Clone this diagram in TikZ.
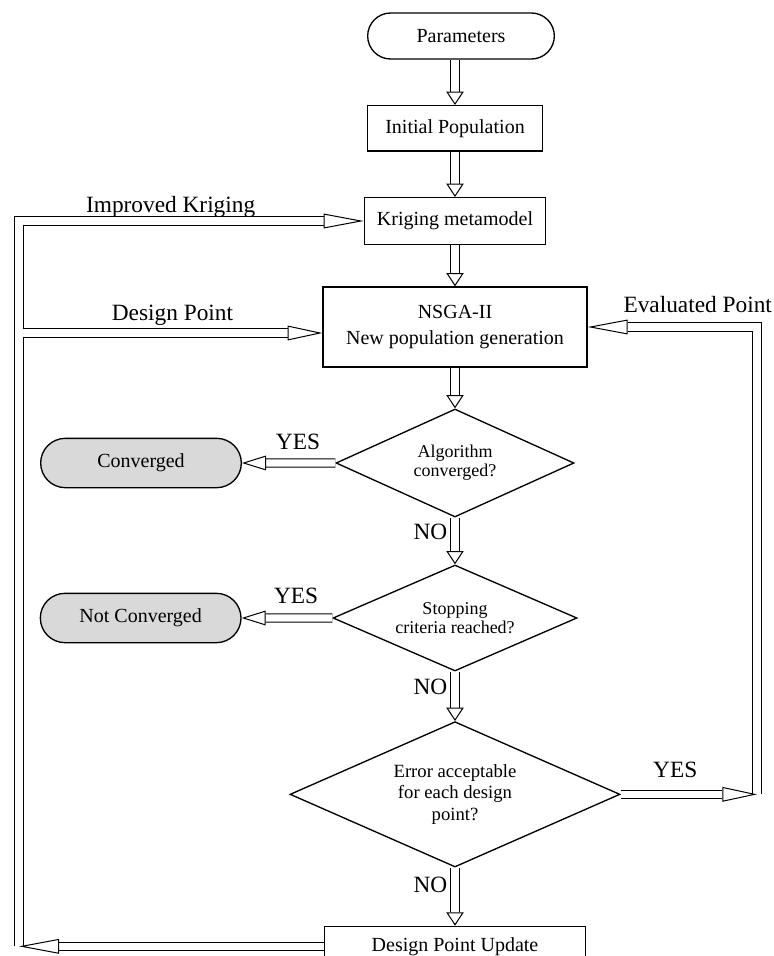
\documentclass[tikz,border=0pt]{standalone}
\usepackage{fontspec}
\setmainfont{Liberation Serif}
\usetikzlibrary{arrows.meta, positioning, shapes.geometric, shapes.misc}

\begin{document}
\begin{tikzpicture}[
    x=0.75pt, y=-0.75pt,
    block/.style={rectangle, draw, line width=1pt, align=center,
      font=\fontsize{15}{20}\selectfont, inner sep=2pt},
    term/.style={rounded rectangle, draw, line width=1pt, align=center,
      font=\fontsize{15}{18}\selectfont, inner sep=2pt},
    decision/.style={diamond, draw, line width=1pt, align=center,
      aspect=2, inner sep=0pt, font=\fontsize{13.5}{14}\selectfont},
    lbl/.style={text=black, font=\fontsize{17.5}{20}\selectfont, inner sep=0pt},
    dbl/.style={line width=5.5pt, white,
      preaction={draw, black, line width=7pt, -, shorten >=#1}},
    flow/.style={dbl=10pt,
      -{Triangle[length=10pt, width=13pt, line width=0.75pt, color=black, fill=white]}},
    feed/.style={dbl=#1,
      -{Triangle[length=#1, width=11pt, line width=0.75pt, color=black, fill=white]}},
    feed/.default=28pt
]
\useasboundingbox (0,0) rectangle (774,956);

% main column
\node[term, minimum width=144pt, minimum height=34.5pt] (par) at (461,36) {Parameters};
\node[block, minimum width=131pt, minimum height=34pt, below=34pt of par, xshift=-4.5pt] (init) {Initial Population};
\node[block, minimum width=136pt, minimum height=35pt, below=34pt of init] (krig) {Kriging metamodel};
\node[block, minimum width=198pt, minimum height=60pt, below=31pt of krig] (nsga) {NSGA-II\\New population generation};
\node[decision, minimum width=178.5pt, minimum height=81pt, below=30.5pt of nsga] (alg) {Algorithm\\converged?};
\node[decision, minimum width=183pt, minimum height=79.5pt, below=35pt of alg] (stop) {Stopping\\criteria reached?};
\node[decision, minimum width=247.5pt, minimum height=109pt, below=37pt of stop,
      font=\fontsize{14}{16}\selectfont] (err) {Error acceptable\\for each design\\point?};
\node[block, minimum width=196pt, minimum height=30pt, below=43.5pt of err] (upd) {Design Point Update};

% end states
\node[term, fill=gray!30, minimum width=154.5pt, minimum height=37pt, left=70pt of alg] (conv) {Converged};
\node[term, fill=gray!30, minimum width=154.5pt, minimum height=37pt, left=68pt of stop] (nconv) {Not Converged};

% loop lines
\coordinate (lx) at (19,0);
\coordinate (rx) at (757,0);
\coordinate (dpin) at ([yshift=-4.5pt]nsga.west);
\coordinate (dpfoot) at (dpin -| lx);
\coordinate (dpout) at ([xshift=2.75pt]dpfoot);

\draw[flow] (par.south -| init) -- (init.north);
\draw[flow] (init) -- (krig);
\draw[flow] (krig) -- (nsga);
\draw[flow] (nsga) -- (alg);
\draw[flow] (alg) -- node[lbl, pos=0.3, left=3pt] {NO} (stop);
\draw[flow] (stop) -- node[lbl, pos=0.3, left=3pt] {NO} (err);
\draw[flow] (err) -- node[lbl, pos=0.3, left=3pt] {NO} (upd);
\draw[feed=18pt] (alg.west) -- node[lbl, pos=0.4, above=7pt] {YES} (conv);
\draw[feed=18pt] (stop.west) -- node[lbl, pos=0.4, above=8pt] {YES} (nconv);

\draw[feed=30pt] (upd.west -| lx) |- node[lbl, pos=0.72, above=0pt] {Improved Kriging} (krig.west);
\draw[feed=30pt] (upd.west) -- (upd.west -| lx);
\draw[feed=26pt] (dpout) -- node[lbl, above=3pt] {Design Point} (dpin);

\draw[feed=30pt] (err.east -| rx) |- node[lbl, pos=0.675, above=8pt] {Evaluated Point} (nsga.east);
\draw[feed=26pt] (err.east) -- node[lbl, pos=0.4, above=10pt] {YES} (err.east -| rx);
\end{tikzpicture}
\end{document}
